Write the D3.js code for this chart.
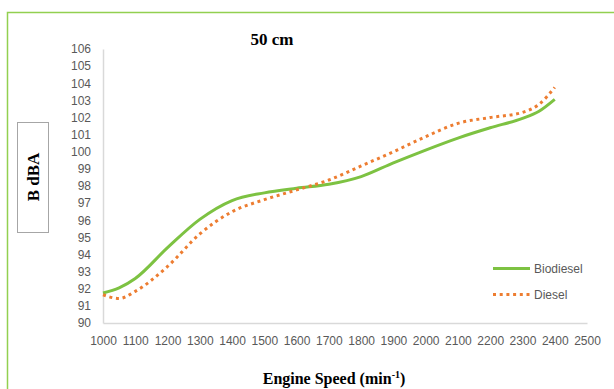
<!DOCTYPE html>
<html>
<head>
<meta charset="utf-8">
<script src="https://cdn.jsdelivr.net/npm/d3@7"></script>
<style>
  html, body { margin: 0; padding: 0; background: #fff; }
  svg { display: block; }
</style>
</head>
<body>
<svg id="chart" width="614" height="389"></svg>
<script>
// ---- data ----
const speeds = [1000, 1050, 1100, 1200, 1300, 1400, 1500, 1600, 1700, 1800, 1900, 2000, 2100, 2200, 2300, 2350, 2400];
const biodiesel = [91.75, 92.05, 92.6, 94.4, 96.05, 97.15, 97.6, 97.87, 98.1, 98.55, 99.35, 100.1, 100.8, 101.4, 101.95, 102.35, 103.06];
const diesel = [91.65, 91.43, 91.85, 93.3, 95.2, 96.5, 97.2, 97.77, 98.35, 99.17, 100.0, 100.88, 101.66, 102.0, 102.3, 102.75, 103.76];
const xTicks = [1000, 1100, 1200, 1300, 1400, 1500, 1600, 1700, 1800, 1900, 2000, 2100, 2200, 2300, 2400, 2500];
const yTicks = [90, 91, 92, 93, 94, 95, 96, 97, 98, 99, 100, 101, 102, 103, 104, 105, 106];
const seriesNames = ["Biodiesel", "Diesel"];
const titleText = "50 cm";
const yTitle = "B dBA";

// ---- layout ----
const svg = d3.select("#chart");
const plot = { left: 103, right: 587, top: 49, bottom: 323 };
const x = d3.scaleLinear().domain([1000, 2500]).range([plot.left, plot.right]);
const y = d3.scaleLinear().domain([90, 106]).range([plot.bottom, plot.top]);

const tickFont = "'Liberation Sans', Arial, sans-serif";
const serif = "'Liberation Serif', 'Times New Roman', serif";

// outer green frame
svg.append("rect")
  .attr("x", 7.5).attr("y", 12.5).attr("width", 640).attr("height", 420)
  .attr("fill", "none").attr("stroke", "#92D050").attr("stroke-width", 1.5);

// axes
const xAxis = d3.axisBottom(x).tickValues(xTicks).tickSize(0).tickPadding(13).tickFormat(d3.format("d"));
const yAxis = d3.axisLeft(y).tickValues(yTicks).tickSize(0).tickPadding(12).tickFormat(d3.format("d"));

const gx = svg.append("g").attr("transform", `translate(0,${plot.bottom})`).call(xAxis);
const gy = svg.append("g").attr("transform", `translate(${plot.left},0)`).call(yAxis);
[gx, gy].forEach(g => {
  g.select(".domain").attr("stroke", "#d9d9d9").attr("stroke-width", 1.5);
  g.selectAll("text").attr("fill", "#595959").attr("font-family", tickFont).attr("font-size", 12);
});

// lines
const line = vals => d3.line()
  .x((d, i) => x(speeds[i]))
  .y(d => y(d))
  .curve(d3.curveMonotoneX)(vals);

svg.append("path").attr("d", line(biodiesel))
  .attr("fill", "none").attr("stroke", "#7DC242").attr("stroke-width", 3);
svg.append("path").attr("d", line(diesel))
  .attr("fill", "none").attr("stroke", "#ED7D31").attr("stroke-width", 3)
  .attr("stroke-dasharray", "3,3.7");

// title
svg.append("text").attr("x", 272).attr("y", 45).attr("text-anchor", "middle")
  .attr("font-family", serif).attr("font-weight", "bold").attr("font-size", 17)
  .attr("fill", "#000").text(titleText);

// x axis title
const xt = svg.append("text").attr("x", 334).attr("y", 384).attr("text-anchor", "middle")
  .attr("font-family", serif).attr("font-weight", "bold").attr("font-size", 16).attr("fill", "#000");
xt.append("tspan").text("Engine Speed (min");
xt.append("tspan").attr("font-size", 10).attr("dy", -6).text("-1");
xt.append("tspan").attr("dy", 6).text(")");

// y axis title box
svg.append("rect").attr("x", 17.5).attr("y", 122.5).attr("width", 31).attr("height", 110)
  .attr("fill", "#fff").attr("stroke", "#a6a6a6").attr("stroke-width", 1);
svg.append("text").attr("transform", "translate(39,177) rotate(-90)").attr("text-anchor", "middle")
  .attr("font-family", serif).attr("font-weight", "bold").attr("font-size", 17).attr("fill", "#000")
  .text(yTitle);

// legend
const legend = svg.append("g");
const lg = [
  { name: seriesNames[0], color: "#7DC242", dash: null, y: 268.5 },
  { name: seriesNames[1], color: "#ED7D31", dash: "3,3.7", y: 294.5 }
];
lg.forEach(d => {
  legend.append("line").attr("x1", 493).attr("x2", 530).attr("y1", d.y).attr("y2", d.y)
    .attr("stroke", d.color).attr("stroke-width", 3).attr("stroke-dasharray", d.dash);
  legend.append("text").attr("x", 534).attr("y", d.y).attr("dy", "0.35em")
    .attr("font-family", tickFont).attr("font-size", 12).attr("fill", "#595959").text(d.name);
});
</script>
</body>
</html>
